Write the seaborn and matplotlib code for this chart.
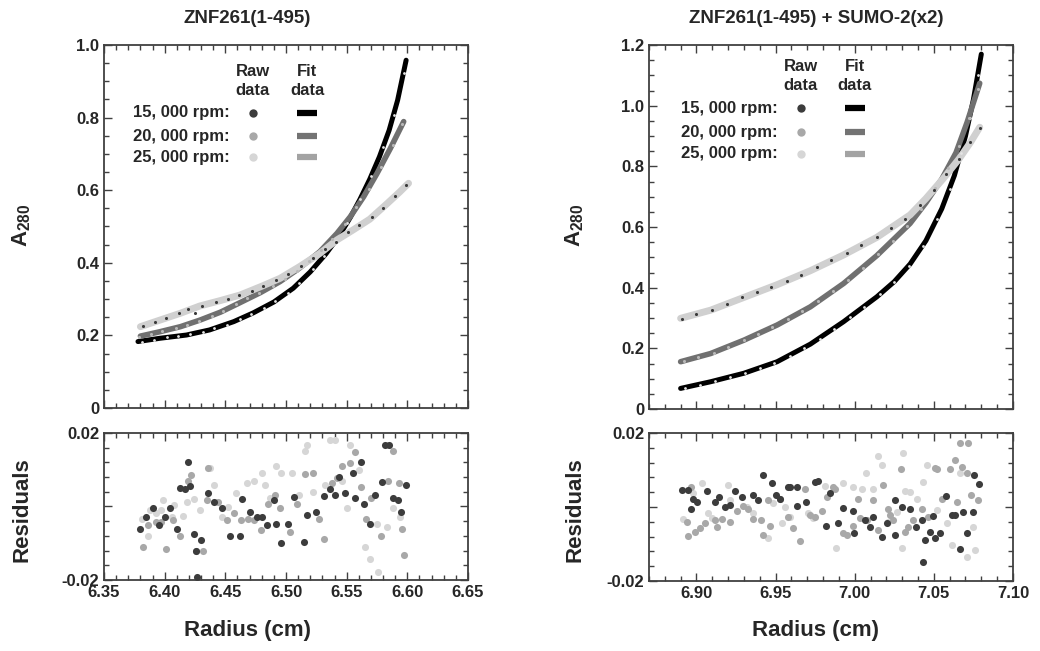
import matplotlib
matplotlib.use("Agg")
import matplotlib.pyplot as plt
import seaborn as sns
from matplotlib.ticker import MultipleLocator, FixedLocator, FuncFormatter

# =======================
# 1. DATA
# =======================
# --- left: ZNF261(1-495) ---
left_fit15_x = [6.378, 6.396, 6.418, 6.437, 6.457, 6.473, 6.490, 6.506, 6.520, 6.533, 6.544, 6.553, 6.561, 6.569, 6.577, 6.585, 6.592, 6.599]
left_fit15_y = [0.183, 0.192, 0.201, 0.215, 0.238, 0.262, 0.292, 0.330, 0.375, 0.425, 0.475, 0.525, 0.575, 0.630, 0.692, 0.765, 0.848, 0.958]
left_fit20_x = [6.380, 6.396, 6.413, 6.429, 6.446, 6.462, 6.479, 6.495, 6.511, 6.528, 6.542, 6.553, 6.564, 6.575, 6.586, 6.597]
left_fit20_y = [0.198, 0.210, 0.224, 0.242, 0.264, 0.290, 0.318, 0.348, 0.385, 0.431, 0.481, 0.527, 0.582, 0.646, 0.715, 0.789]
left_fit25_x = [6.380, 6.396, 6.413, 6.429, 6.446, 6.462, 6.479, 6.495, 6.511, 6.528, 6.542, 6.556, 6.569, 6.583, 6.594, 6.601]
left_fit25_y = [0.224, 0.242, 0.261, 0.281, 0.296, 0.311, 0.334, 0.357, 0.389, 0.426, 0.463, 0.492, 0.520, 0.562, 0.596, 0.619]

left_raw15_x = [6.381, 6.391, 6.402, 6.411, 6.421, 6.432, 6.441, 6.451, 6.462, 6.471, 6.482, 6.491, 6.502, 6.511, 6.522, 6.531, 6.541, 6.550, 6.561, 6.570, 6.580, 6.589, 6.597]
left_raw15_y = [0.182, 0.188, 0.195, 0.199, 0.203, 0.210, 0.219, 0.229, 0.244, 0.258, 0.276, 0.294, 0.318, 0.345, 0.382, 0.418, 0.460, 0.510, 0.575, 0.640, 0.720, 0.808, 0.922]
left_raw20_x = [6.379, 6.389, 6.398, 6.409, 6.418, 6.428, 6.439, 6.448, 6.459, 6.468, 6.478, 6.489, 6.499, 6.509, 6.519, 6.529, 6.538, 6.549, 6.558, 6.568, 6.578, 6.588, 6.596]
left_raw20_y = [0.196, 0.204, 0.211, 0.220, 0.229, 0.240, 0.254, 0.268, 0.286, 0.302, 0.318, 0.337, 0.355, 0.378, 0.405, 0.434, 0.466, 0.508, 0.553, 0.604, 0.663, 0.725, 0.781]
left_raw25_x = [6.382, 6.392, 6.401, 6.412, 6.419, 6.425, 6.431, 6.442, 6.452, 6.461, 6.472, 6.481, 6.492, 6.502, 6.512, 6.522, 6.532, 6.541, 6.551, 6.560, 6.571, 6.580, 6.590, 6.599]
left_raw25_y = [0.225, 0.236, 0.249, 0.262, 0.272, 0.262, 0.282, 0.292, 0.301, 0.310, 0.322, 0.337, 0.353, 0.370, 0.390, 0.412, 0.437, 0.458, 0.484, 0.503, 0.525, 0.552, 0.585, 0.614]

left_res15_x = [6.380, 6.385, 6.390, 6.395, 6.400, 6.404, 6.410, 6.413, 6.417, 6.419, 6.421, 6.424, 6.426, 6.427, 6.430, 6.436, 6.441, 6.447, 6.454, 6.462, 6.464, 6.470, 6.476, 6.480, 6.484, 6.490, 6.492, 6.496, 6.502, 6.507, 6.515, 6.517, 6.525, 6.531, 6.536, 6.540, 6.544, 6.549, 6.555, 6.557, 6.562, 6.564, 6.569, 6.573, 6.579, 6.582, 6.585, 6.588, 6.592, 6.595, 6.599]
left_res15_y = [-0.0060, -0.0028, -0.0003, -0.0051, -0.0028, -0.0005, -0.0062, 0.0049, 0.0047, 0.0122, 0.0056, -0.0074, -0.0120, -0.0193, -0.0090, 0.0037, 0.0013, -0.0005, -0.0081, -0.0079, 0.0019, -0.0015, -0.0028, -0.0028, -0.0051, 0.0017, -0.0047, -0.0099, -0.0047, 0.0026, -0.0097, -0.0024, -0.0015, 0.0028, 0.0048, 0.0031, 0.0081, 0.0037, 0.0092, 0.0022, 0.0122, 0.0008, -0.0047, 0.0031, 0.0066, 0.0166, 0.0166, 0.0022, 0.0017, -0.0015, 0.0058]
left_res20_x = [6.382, 6.386, 6.393, 6.397, 6.401, 6.407, 6.413, 6.419, 6.422, 6.426, 6.432, 6.435, 6.436, 6.444, 6.451, 6.457, 6.463, 6.469, 6.474, 6.479, 6.485, 6.491, 6.495, 6.503, 6.509, 6.516, 6.522, 6.527, 6.531, 6.538, 6.542, 6.546, 6.553, 6.557, 6.562, 6.566, 6.570, 6.578, 6.584, 6.588, 6.593, 6.596, 6.597]
left_res20_y = [-0.0110, -0.0051, -0.0042, -0.0042, -0.0115, -0.0037, -0.0079, 0.0068, 0.0086, -0.0120, -0.0120, 0.0017, 0.0104, 0.0013, -0.0037, -0.0019, -0.0037, -0.0033, -0.0037, -0.0065, 0.0008, 0.0031, -0.0005, -0.0069, 0.0008, 0.0088, 0.0090, -0.0033, -0.0088, 0.0065, 0.0077, 0.0110, 0.0118, 0.0147, 0.0054, -0.0034, 0.0022, -0.0080, 0.0068, 0.0150, 0.0063, -0.0060, -0.0133]
left_res25_x = [6.381, 6.386, 6.388, 6.393, 6.397, 6.399, 6.406, 6.408, 6.415, 6.418, 6.424, 6.429, 6.437, 6.441, 6.447, 6.452, 6.459, 6.468, 6.474, 6.480, 6.483, 6.487, 6.492, 6.496, 6.505, 6.511, 6.516, 6.517, 6.522, 6.532, 6.536, 6.540, 6.546, 6.550, 6.553, 6.560, 6.565, 6.569, 6.575, 6.576, 6.583, 6.588, 6.594]
left_res25_y = [-0.0033, -0.0079, -0.0010, -0.0019, -0.0010, 0.0017, -0.0028, 0.0004, -0.0026, 0.0013, 0.0020, -0.0010, 0.0104, 0.0058, -0.0028, -0.0001, 0.0036, 0.0063, 0.0068, 0.0092, 0.0058, 0.0022, 0.0109, 0.0090, 0.0090, 0.0031, 0.0150, 0.0166, 0.0040, 0.0058, 0.0182, 0.0180, 0.0068, -0.0005, 0.0168, 0.0100, -0.0110, -0.0142, -0.0047, -0.0179, -0.0056, -0.0005, -0.0028]

# --- right: ZNF261(1-495) + SUMO-2(x2) ---
right_fit15_x = [6.890, 6.909, 6.930, 6.951, 6.972, 6.993, 7.014, 7.025, 7.035, 7.045, 7.055, 7.063, 7.070, 7.075, 7.080]
right_fit15_y = [0.068, 0.090, 0.118, 0.156, 0.214, 0.288, 0.370, 0.420, 0.478, 0.555, 0.660, 0.770, 0.900, 1.020, 1.170]
right_fit20_x = [6.890, 6.909, 6.930, 6.951, 6.972, 6.993, 7.014, 7.035, 7.045, 7.055, 7.064, 7.071, 7.079]
right_fit20_y = [0.156, 0.183, 0.227, 0.277, 0.337, 0.414, 0.506, 0.612, 0.680, 0.758, 0.845, 0.945, 1.074]
right_fit25_x = [6.890, 6.909, 6.930, 6.951, 6.972, 6.993, 7.014, 7.035, 7.045, 7.056, 7.066, 7.073, 7.079]
right_fit25_y = [0.299, 0.326, 0.368, 0.410, 0.456, 0.508, 0.566, 0.640, 0.694, 0.760, 0.825, 0.878, 0.929]

right_raw15_x = [6.893, 6.902, 6.912, 6.921, 6.931, 6.940, 6.949, 6.959, 6.968, 6.978, 6.987, 6.997, 7.006, 7.016, 7.025, 7.034, 7.043, 7.052, 7.060, 7.067, 7.073, 7.078]
right_raw15_y = [0.070, 0.080, 0.093, 0.104, 0.120, 0.135, 0.152, 0.174, 0.200, 0.232, 0.265, 0.302, 0.338, 0.380, 0.420, 0.472, 0.538, 0.625, 0.725, 0.845, 0.960, 1.100]
right_raw20_x = [6.892, 6.901, 6.911, 6.920, 6.930, 6.939, 6.948, 6.958, 6.967, 6.977, 6.986, 6.996, 7.005, 7.015, 7.024, 7.033, 7.042, 7.051, 7.059, 7.066, 7.072, 7.078]
right_raw20_y = [0.158, 0.170, 0.186, 0.203, 0.226, 0.248, 0.270, 0.296, 0.322, 0.355, 0.388, 0.427, 0.466, 0.510, 0.555, 0.602, 0.660, 0.728, 0.795, 0.868, 0.958, 1.055]
right_raw25_x = [6.891, 6.900, 6.910, 6.919, 6.929, 6.938, 6.947, 6.957, 6.966, 6.976, 6.985, 6.995, 7.004, 7.014, 7.023, 7.032, 7.041, 7.050, 7.058, 7.066, 7.073, 7.079]
right_raw25_y = [0.298, 0.312, 0.328, 0.345, 0.368, 0.385, 0.402, 0.422, 0.443, 0.468, 0.490, 0.516, 0.540, 0.568, 0.598, 0.628, 0.672, 0.722, 0.775, 0.825, 0.880, 0.925]

right_res15_x = [6.8906, 6.8944, 6.8965, 6.8980, 6.9001, 6.9064, 6.9117, 6.9144, 6.9180, 6.9212, 6.9243, 6.9285, 6.9355, 6.9390, 6.9422, 6.9475, 6.9502, 6.9528, 6.9580, 6.9591, 6.9633, 6.9637, 6.9692, 6.9749, 6.9770, 6.9816, 6.9844, 6.9896, 6.9928, 6.9991, 6.9995, 7.0065, 7.0096, 7.0117, 7.0170, 7.0202, 7.0254, 7.0254, 7.0296, 7.0349, 7.0387, 7.0423, 7.0429, 7.0444, 7.0475, 7.0492, 7.0507, 7.0539, 7.0576, 7.0612, 7.0633, 7.0665, 7.0682, 7.0707, 7.0745, 7.0753, 7.0787]
right_res15_y = [0.0046, 0.0046, -0.0004, 0.0023, 0.0014, 0.0044, 0.0014, 0.0028, 0.0001, 0.0005, 0.0043, 0.0028, 0.0032, 0.0019, 0.0086, 0.0066, 0.0032, 0.0023, 0.0055, 0.0053, 0.0053, 0.0003, 0.0014, 0.0068, 0.0070, -0.0051, 0.0039, -0.0044, -0.0002, -0.0010, -0.0069, -0.0035, -0.0053, -0.0026, -0.0082, -0.0044, 0.0019, -0.0076, -0.0001, -0.0006, -0.0053, -0.0035, -0.0148, -0.0089, -0.0067, -0.0024, -0.0083, -0.0071, 0.0030, -0.0022, -0.0022, -0.0113, -0.0013, -0.0071, -0.0013, 0.0086, 0.0062]
right_res20_x = [6.8938, 6.8948, 6.8963, 6.8991, 6.9022, 6.9054, 6.9117, 6.9128, 6.9160, 6.9212, 6.9254, 6.9296, 6.9328, 6.9355, 6.9408, 6.9422, 6.9454, 6.9465, 6.9528, 6.9580, 6.9612, 6.9654, 6.9686, 6.9717, 6.9749, 6.9791, 6.9823, 6.9865, 6.9875, 6.9928, 6.9949, 6.9991, 7.0023, 7.0033, 7.0075, 7.0113, 7.0149, 7.0181, 7.0212, 7.0223, 7.0244, 7.0290, 7.0317, 7.0338, 7.0370, 7.0423, 7.0465, 7.0507, 7.0517, 7.0549, 7.0602, 7.0633, 7.0644, 7.0665, 7.0675, 7.0711, 7.0718, 7.0732, 7.0781]
right_res20_y = [-0.0040, -0.0078, 0.0053, -0.0067, -0.0058, -0.0044, -0.0035, -0.0055, -0.0033, -0.0040, -0.0010, 0.0003, -0.0004, -0.0033, -0.0035, -0.0076, 0.0019, -0.0051, 0.0021, -0.0026, -0.0058, -0.0091, 0.0050, -0.0022, -0.0026, -0.0010, 0.0028, 0.0055, 0.0048, -0.0071, -0.0076, -0.0051, 0.0023, -0.0031, -0.0035, 0.0019, -0.0062, 0.0059, -0.0004, -0.0022, -0.0035, 0.0102, -0.0067, -0.0055, -0.0035, -0.0006, -0.0026, 0.0106, 0.0102, 0.0023, 0.0104, 0.0127, 0.0014, 0.0174, 0.0109, 0.0091, 0.0172, 0.0032, 0.0019]
right_res25_x = [6.8917, 6.8980, 6.9033, 6.9075, 6.9096, 6.9201, 6.9212, 6.9317, 6.9359, 6.9454, 6.9486, 6.9538, 6.9560, 6.9591, 6.9707, 6.9738, 6.9812, 6.9881, 6.9928, 6.9991, 7.0044, 7.0071, 7.0117, 7.0149, 7.0170, 7.0212, 7.0265, 7.0296, 7.0307, 7.0317, 7.0349, 7.0391, 7.0433, 7.0454, 7.0517, 7.0581, 7.0612, 7.0665, 7.0707, 7.0749, 7.0759]
right_res25_y = [-0.0033, 0.0037, 0.0064, -0.0017, -0.0031, 0.0059, 0.0019, -0.0001, -0.0017, -0.0085, 0.0010, -0.0044, -0.0001, -0.0026, -0.0017, -0.0031, 0.0057, -0.0112, 0.0064, 0.0055, 0.0050, 0.0093, 0.0050, 0.0138, 0.0113, -0.0040, -0.0013, -0.0112, 0.0145, 0.0043, 0.0041, 0.0021, 0.0068, 0.0113, -0.0008, -0.0042, -0.0103, 0.0091, -0.0134, -0.0053, -0.0116]

speed_labels = ["15, 000 rpm:", "20, 000 rpm:", "25, 000 rpm:"]

# =======================
# 2. STYLE
# =======================
sns.set_style("ticks")
plt.rcParams['font.family'] = ['Liberation Sans', 'DejaVu Sans']
plt.rcParams['font.weight'] = 'bold'
plt.rcParams['mathtext.fontset'] = 'custom'
plt.rcParams['mathtext.rm'] = 'Liberation Sans:bold'
plt.rcParams['mathtext.bf'] = 'Liberation Sans:bold'
plt.rcParams['mathtext.it'] = 'Liberation Sans:bold'

dot_cols = ['#3c3c3c', '#a8a8a8', '#d6d6d6']
fit_cols = ['#000000', '#737373', '#a3a3a3']
frame_col = '#404040'


def frame(ax, xlo, xhi):
    ax.set_xlim(xlo, xhi)
    ax.xaxis.set_major_locator(MultipleLocator(0.05))
    ax.xaxis.set_minor_locator(MultipleLocator(0.01))
    ax.tick_params(which='both', direction='in', top=True, right=True,
                   color=frame_col, labelsize=12, width=1)
    ax.tick_params(which='major', length=6)
    ax.tick_params(which='minor', length=3.5)
    for s in ax.spines.values():
        s.set_color(frame_col)
        s.set_linewidth(1.3)
    ax.set_xlabel('')
    ax.set_ylabel('')


def main_panel(ax, xlo, xhi, ytop, fits, raws, legend_pos):
    # fit curves (thick bands) with the raw points on top
    styles = [(fit_cols[0], 3.6, '#e4e4e4', 4),
              ('#707070', 4.0, '#b8b8b8', 5),
              ('#d0d0d0', 5.0, '#3a3a3a', 5)]
    for (fx, fy), (rx, ry), (fc, lw, rc, rs) in zip(fits, raws, styles):
        sns.lineplot(x=fx, y=fy, ax=ax, color=fc, linewidth=lw, sort=False,
                     estimator=None, zorder=2)
        sns.scatterplot(x=rx, y=ry, ax=ax, color=rc, s=rs, linewidth=0, zorder=3)
    frame(ax, xlo, xhi)
    ax.set_ylim(0, ytop)
    ax.yaxis.set_major_locator(MultipleLocator(0.2))
    ax.yaxis.set_minor_locator(MultipleLocator(0.05))
    ax.yaxis.set_major_formatter(FuncFormatter(lambda v, p: '0' if abs(v) < 1e-9 else f'{v:.1f}'))
    ax.tick_params(labelbottom=False)

    # legend drawn as text/markers in axes coordinates
    lab_x, raw_x, fit_x, head_y, rows_y = legend_pos
    ax.text(raw_x, head_y, 'Raw\ndata', transform=ax.transAxes, ha='center', va='center',
            fontsize=12, fontweight='bold', linespacing=1.35)
    ax.text(fit_x, head_y, 'Fit\ndata', transform=ax.transAxes, ha='center', va='center',
            fontsize=12, fontweight='bold', linespacing=1.35)
    for lab, yy, dc, fc in zip(speed_labels, rows_y, dot_cols, fit_cols):
        ax.text(lab_x, yy, lab, transform=ax.transAxes, ha='right', va='center',
                fontsize=12, fontweight='bold')
        ax.plot([raw_x], [yy], 'o', ms=6, color=dc, mec='none', transform=ax.transAxes)
        ax.plot([fit_x - 0.027, fit_x + 0.027], [yy, yy], color=fc, lw=4.5,
                solid_capstyle='butt', transform=ax.transAxes)


def res_panel(ax, xlo, xhi, res):
    for (rx, ry), c in zip(res[::-1], dot_cols[::-1]):
        sns.scatterplot(x=rx, y=ry, ax=ax, color=c, s=26, linewidth=0, zorder=3)
    frame(ax, xlo, xhi)
    ax.set_ylim(-0.02, 0.02)
    ax.yaxis.set_major_locator(FixedLocator([-0.02, 0.0, 0.02]))
    ax.yaxis.set_minor_locator(MultipleLocator(0.004))
    ax.yaxis.set_major_formatter(FuncFormatter(lambda v, p: '' if abs(v) < 1e-9 else f'{v:.2f}'))
    ax.xaxis.set_major_formatter(FuncFormatter(lambda v, p: f'{v:.2f}'))


# =======================
# 3. FIGURE
# =======================
fig = plt.figure(figsize=(10.4, 6.51), dpi=100)
ax_lm = fig.add_axes([0.100, 0.3733, 0.350, 0.5576])
ax_lr = fig.add_axes([0.100, 0.1091, 0.350, 0.2258])
ax_rm = fig.add_axes([0.624, 0.3717, 0.350, 0.5591])
ax_rr = fig.add_axes([0.624, 0.1075, 0.350, 0.2273])

main_panel(ax_lm, 6.35, 6.65, 1.0,
           [(left_fit15_x, left_fit15_y), (left_fit20_x, left_fit20_y), (left_fit25_x, left_fit25_y)],
           [(left_raw15_x, left_raw15_y), (left_raw20_x, left_raw20_y), (left_raw25_x, left_raw25_y)],
           (0.346, 0.409, 0.558, 0.90, [0.813, 0.749, 0.691]))
res_panel(ax_lr, 6.35, 6.65,
          [(left_res15_x, left_res15_y), (left_res20_x, left_res20_y), (left_res25_x, left_res25_y)])

main_panel(ax_rm, 6.87, 7.10, 1.2,
           [(right_fit15_x, right_fit15_y), (right_fit20_x, right_fit20_y), (right_fit25_x, right_fit25_y)],
           [(right_raw15_x, right_raw15_y), (right_raw20_x, right_raw20_y), (right_raw25_x, right_raw25_y)],
           (0.354, 0.417, 0.566, 0.915, [0.826, 0.760, 0.702]))
res_panel(ax_rr, 6.87, 7.10,
          [(right_res15_x, right_res15_y), (right_res20_x, right_res20_y), (right_res25_x, right_res25_y)])

# titles and axis labels
fig.text(0.238, 0.972, 'ZNF261(1-495)', ha='center', va='center', fontsize=13.5, fontweight='bold')
fig.text(0.785, 0.972, 'ZNF261(1-495) + SUMO-2(x2)', ha='center', va='center', fontsize=13.5, fontweight='bold')
for xc, xl in [(0.021, 0.238), (0.553, 0.784)]:
    fig.text(xc, 0.654, r'A$_{\mathbf{280}}$', rotation=90, ha='center', va='center',
             fontsize=16, fontweight='bold')
    fig.text(xc, 0.217, 'Residuals', rotation=90, ha='center', va='center',
             fontsize=16, fontweight='bold')
    fig.text(xl, 0.032, 'Radius (cm)', ha='center', va='center', fontsize=16, fontweight='bold')

plt.savefig('out.png', dpi=100)
